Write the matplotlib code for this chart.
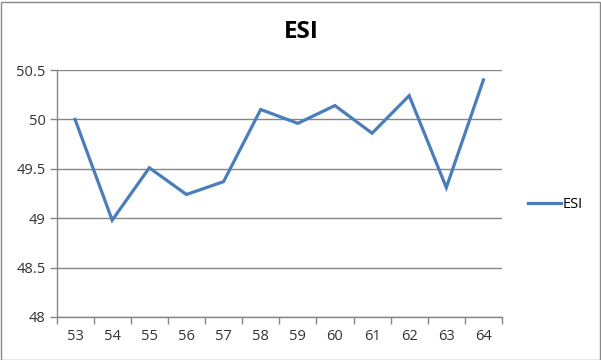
import matplotlib
matplotlib.use('Agg')
import matplotlib.pyplot as plt
from matplotlib.patches import Rectangle

categories = ["53", "54", "55", "56", "57", "58", "59", "60", "61", "62", "63", "64"]
esi = [50.0, 48.98, 49.51, 49.24, 49.37, 50.10, 49.96, 50.14, 49.86, 50.24, 49.31, 50.40]
y_ticks = [48, 48.5, 49, 49.5, 50, 50.5]
y_labels = ["48", "48.5", "49", "49.5", "50", "50.5"]

plt.rcParams['font.family'] = ['Open Sans', 'DejaVu Sans']

fig = plt.figure(figsize=(6.01, 3.6), dpi=100)
ax = fig.add_axes([56.5 / 601, 1 - 317 / 360, (502 - 56.5) / 601, (317 - 70) / 360])

x = list(range(len(categories)))
ax.plot(x, esi, color="#4A7EBB", linewidth=2.3, label="ESI", solid_joinstyle='miter')

ax.set_xlim(-0.5, len(categories) - 0.5)
ax.set_ylim(48, 50.5)
ax.set_yticks(y_ticks)
ax.set_yticklabels(y_labels, fontsize=10.5, color="#333333")
ax.set_xticks(x)
ax.set_xticklabels(categories, fontsize=10.5, color="#333333")
ax.set_xticks([i - 0.5 for i in range(len(categories) + 1)], minor=True)
ax.tick_params(axis='x', which='major', length=0, pad=9)
ax.tick_params(axis='x', which='minor', length=5, color="#868686", width=1)
ax.tick_params(axis='y', length=5, color="#868686", width=1, pad=3)

ax.grid(True, axis='y', color="#868686", linewidth=1)
ax.set_axisbelow(True)
for side in ['top', 'right']:
    ax.spines[side].set_visible(False)
for side in ['left', 'bottom']:
    ax.spines[side].set_color("#868686")
    ax.spines[side].set_linewidth(1)

fig.text(301 / 601, 1 - 32 / 360, "ESI", ha='center', va='center', fontsize=17.5, fontweight='bold')

leg = fig.legend(loc='center left', bbox_to_anchor=(522 / 601, 1 - 205 / 360), frameon=False,
                 fontsize=10.5, handlelength=2.3, handletextpad=0.1, borderaxespad=0)

fig.patches.append(Rectangle((0.5 / 601, 0.5 / 360), 599 / 601, 358 / 360, transform=fig.transFigure,
                             fill=False, edgecolor="#888888", linewidth=1))

fig.savefig("out.png", dpi=100)
